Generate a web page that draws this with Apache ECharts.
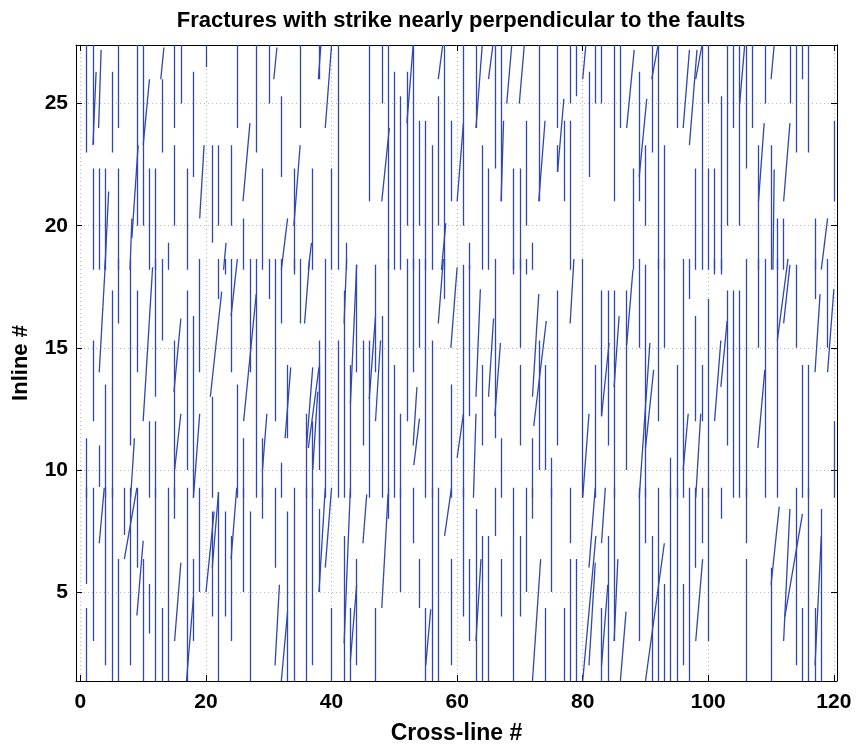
<!DOCTYPE html>
<html><head><meta charset="utf-8">
<script src="https://cdn.jsdelivr.net/npm/echarts@6/dist/echarts.min.js"></script>
<style>html,body{margin:0;padding:0;background:#fff}#c{width:857px;height:750px}</style>
</head><body><div id="c"></div>
<script>
const titleText = 'Fractures with strike nearly perpendicular to the faults';
const xName = 'Cross-line #';
const yName = 'Inline #';
const xTicks = [0, 20, 40, 60, 80, 100, 120];
const yTicks = [5, 10, 15, 20, 25];
const xRange = [-0.7, 120.5];
const yRange = [1.36, 27.4];

// vertical fractures: [cross-line, inline from, inline to]
const verticalSticks = [
 [1,23.0,27.4],[2,23.33,27.4],[2,18.2,22.34],[3,18.2,22.34],[4,18.2,22.34],[5,23,26.3],[6,24,27.4],[6,18.2,22.34],[9,20,27.4],[10,20,27.4],[11,18.2,22.34],[12,18.2,22.34],[13,23,26],[14,18.2,19.3],[15,24,27.4],[15,20,23.3],[16,25,27.4],[17,18.2,22.34],[18,22,26.3],[20,26.5,27.4],[21,19.3,23.3],[22,20,23.3],[24,20,23.3],[25,24,27.4],[26,18.2,20.3],[28,23,27.4],[29,18.2,22.34],[30,25,27.4],[32,22,25.3],[34,18.2,22.34],[35,24,27.4],[37,18.2,22.34],[38,26,27.4],
 [41,18.2,27.4],[40,18.2,22.34],[42.4,18.2,19.3],[46,21,27.4],[48,25,27.4],[49,18.2,27.4],[50,18.2,26.3],[51,18.2,25.3],[52,20,26.3],[53,18.2,27.4],[54,20,24.3],[55,18.2,24.3],[56,18.2,23.3],[57,20,25.3],[58,18.2,27.4],[59,21,24.3],[61,20,27.4],[62,18.2,19.3],[63,24,27.4],[64,18.2,23.3],[65,18.2,22.34],[66,22.34,27.4],[67,21,27.4],[69,18.2,22.34],[70,18.2,22.34],[71,20,24.3],[72,18.2,19.3],[73,21,27.4],[76,22.2,23.3],
 [76,24,27.4],[77,21,24.3],[78,25,27.4],[78,18.2,24.3],[79,25.3,27.4],[81,22,26.3],[82,25,27.4],[83,25,27.4],[85,21,27.4],[86,24,27.4],[88,18.2,22.34],[89,21,26.3],[90,20,23.3],[91,23,27.4],[92,18.2,27.4],[93,18.2,23.3],[95,24,27.4],[98,18.2,22.34],[99,18.2,27.4],[100,25,27.4],[100,18.2,22.34],[101,18.2,22.34],[102,18.2,25.3],[103,20,27.4],[104,24,27.4],[105,20,27.4],[106,22.34,27.4],[107,24,27.4],[108,18.2,23.3],[109,25,27.4],[110,18.2,23.3],[111,18.2,20.3],[112,18.2,20.3],[113,25,27.4],[114,23,27.4],[115,26,27.4],[116,23,27.4],[117,18.2,20.3],[120,21,24.3],
 [1,8.86,11.3],[2,12,15.3],[3,9.3,11],[4,8.86,13.5],[5,8.86,17.35],[6,16,18.64],[8,11,18.64],[9,14,17.35],[11,8.86,12],[12,13,18.64],[12,8.86,12],[13,15.3,18.64],[15,8.86,15.3],[17,10,17.35],[18,8.86,16.3],[19,14,18.64],[21,8.86,13],[22,17,18.64],[23,18,18.64],[24,14,18.64],[25,8.86,13.5],[26,8.86,11.3],[27,14,18.64],[28,8.86,18.64],[29,8.86,11.3],[30,17,18.64],[31,12,18.64],[32,16,18.64],[32,8.86,10.3],[33,11.3,14.3],[34,18,18.64],[35,16,18.64],[37,8.86,12],[38,10,14.3],
 [36,8.86,12.3],[38,11,15.3],[39,8.86,18.64],[41,8.86,15.3],[42,8.86,17.35],[43,8.86,14.3],[44,14,18.4],[45,11,15.3],[46,8.86,15.3],[47,14,18.4],[48,8.86,16.3],[49,8.86,18.64],[50,8.86,14.3],[51,8.86,12.3],[52,12,18.64],[53,14,18.64],[54,15,18.64],[55,8.86,18.64],[56,8.86,15.3],[58,17,18.64],[59,8.86,13.5],[61,8.86,18.4],[62,12.2,18.4],[64,11,14.3],[66,11.3,18.64],[67,8.86,11.3],[69,18,18.64],[70,11,14.3],[70,15,18.64],[71,18,18.64],[72,8.86,11.3],[73,10,15.3],[74,10,14.3],[75,8.86,10.5],
 [76,11,17.35],[80,8.86,18.64],[82,8.86,14.3],[83,12.2,17.35],[84,11,17.35],[85,8.86,17.35],[87,10,17.35],[89,15,18.64],[90,8.86,18.4],[92,12,18.64],[93,15,18.64],[94,8.86,10.5],[95,8.86,14.3],[96,8.86,18.64],[97,17,18.64],[98,12,16.3],[99,12,14.3],[100,8.86,17],[101,18,18.64],[102,18,18.64],[103,11,17.35],[104,8.86,17.35],[105,8.86,17.35],[106,8.86,18.64],[108,15,18.64],[109,8.86,18.64],[111,8.86,18.64],[114,15,18.4],[115,8.86,14.3],[116,8.86,14.3],[117,17,18.64],[119,15,18.64],[120,8.86,12],
 [1,5.33,9.27],[1,1.36,4.35],[2,3,9.27],[4,2,9.27],[5,1.36,9.27],[6,1.36,6.35],[7,7.34,9.27],[8,2,9.27],[9,6,9.27],[10,1.36,6.35],[11,3.3,5.33],[12,1.36,9.27],[13,1.36,4.35],[14,1.36,9.27],[15,8,9.27],[17,1.36,9.27],[18,3,6.35],[19,5,9.27],[21,4,8.3],[22,1.36,9.1],[23,4,8.3],[24,3,7.3],[26,5,9.27],[27,1.36,8.3],[29,8,9.27],[31,6,9.27],[33,1.36,8.3],[34,1.36,9.27],[36,1.36,9.27],
 [37,2,9.27],[38,5,8.4],[40,1.36,4.35],[42,1.36,7.3],[43,1.36,4.35],[44,2,6.35],[47,1.36,4.35],[49,8,9.27],[51,5,9.27],[53,7,9.27],[54,4.35,6.35],[55,1.36,4.35],[56,1.36,9.27],[57,1.36,9.27],[59,2,6.35],[61,4,9.27],[62,3,6.35],[63,1.36,8.4],[64,1.36,7.3],[65,1.36,7.3],[66,7.3,9.27],[67,4,6.35],[69,1.36,9.27],[70,4,7.3],[71,5,9.27],[72,8,9.27],[74,1.36,4.35],[75,5,9.27],
 [77,1.36,4.35],[78,7,9.27],[78,1.36,6.35],[79,1.36,6.35],[83,1.36,4.35],[84,1.36,7.3],[85,3,9.27],[89,3,9.27],[90,7,9.27],[91,1.36,7.3],[92,1.36,9.27],[93,1.36,5.33],[94,1.36,9.27],[95,1.36,9.27],[96,2,5.33],[97,1.36,9.27],[98,6,9.27],[99,7,9.27],[100,3,9.27],[102,8,9.27],[106,1.36,6.35],[106,7,9.27],[110,1.36,6],[114,2,9.27],[115,1.36,4.35],[116,1.36,9.27],[117,1.36,4.35],[118,1.36,8.4]
];

// oblique fractures: [cross-line low end, inline low end, cross-line high end, inline high end]
const tiltedSticks = [
 [2,23.3,2.5,26.3],[2.9,24,3.3,27.2],[3.9,18.2,4.5,21.4],[7.9,18.2,8.2,20.3],[8.2,19.5,9.2,23.3],[10,23.3,11,26],[12.8,26,13.3,27.3],[19,20.3,19.7,23.3],[22.8,18.2,23.2,19.3],[25.9,21,27,24.2],[30.8,26,31.3,27.3],[32,18.2,33,20.3],[34,20,35,23.3],[36.3,18.2,36.8,19.3],[37.9,26,38.3,27.4],[39,24,40,27.4],[48,21,49.2,24],[52,24.2,53,27.4],[57,26,57.7,27.4],[57.5,18.2,58.2,20.1],[60,21,61,24.2],[63,24,64,27.4],[65,26,65.7,27.4],[67,21,67.4,24.3],[67.9,25,68.7,27.4],[69.9,25,70.7,27.4],[73,21,74,24.3],[76,22.2,77,25.2],[80,26,80.5,27.4],[87,24,88.2,27.2],[89,22,90.2,25.2],[91,26,92,27.4],[96,24,97,27.2],[97,23.3,98.2,27.2],[98,26,99,27.4],[105,25,105.8,27.4],[108,21,108.9,24.2],[110,26,110.5,27.4],[110.3,18.2,110.5,22.3],[112,21,113,24.2],[118,18.2,119,20.3],
 [3,14,4,18.6],[8,8.86,8.6,11.3],[10,12,11.5,18.3],[14.9,13.2,16,16.2],[15,10,16,12.3],[18,8.86,19,12.3],[20.7,13,22.5,17.3],[24,16.3,25,18.64],[26,12,28,17.2],[29,10,29.7,12.3],[32.6,11.3,33.5,14.2],[35.7,16,36.5,18.64],[36.3,10.9,38,14.2],[36,10.9,37,14.2],[37,10,37.8,13.2],[42,16,42.4,18.64],[43,12.7,44,18.4],[46,12.9,47,16.3],[47,12,47.8,15.3],[53,11,53.6,13.4],[53.1,10.2,54,12.1],[57,16,57.8,18.64],[59,15,60,18.3],[60,10.5,61,12.3],[63,13,63.7,17.4],[62.6,8.86,63,12.3],[65,13,65.8,16.2],[66,12.2,66.9,15.2],[72,13,73,17.2],[72.2,11.8,74.2,16.1],[78,16,78.6,18.64],[80,8.86,81,12.3],[83,12.2,84.2,15.2],[85,13.4,85.8,16.3],[87,15.1,88,18.2],[89,8.86,90.7,15.2],[90,10.9,91.3,14.1],[96,10,96.8,12.3],[98,8.86,98.8,12.3],[101,12,102,15.3],[102,13.4,103,16.1],[107.9,10.9,109,14.1],[111,15.3,112.7,18.64],[112,16,113,18.4],[117,14,117.8,17.2],[119,14,120,17.4],
 [3,7,3.8,9.27],[7,6.35,9,9.27],[9,4.04,10,7.1],[15,3,16,6.2],[16.9,1.36,18,4.8],[20,5,21.3,8.3],[21,6,22,9.1],[24,6.35,24.9,9.27],[31,2,31.7,5.3],[32,1.36,33,4.2],[38,5,39,9.27],[39,6,40,9.27],[43,2.2,44,5.3],[42,2.9,43,9.27],[45,7,45.6,9],[48,4.35,49,9],[55,2,55.8,4.3],[58,7.3,59.1,9.27],[63,3,63.8,6.35],[72,1.36,73.3,6.35],[80,1.36,82.1,7.3],[81,2,82,6.2],[81,6,82,9.27],[83,2,84,5.3],[83,7,83.6,9.27],[85,3,85.6,6.35],[86,1.36,86.9,4.2],[90,1.36,93,7.0],[98,3,99.1,6.35],[110,5.3,111.3,8.5],[112,3,113,8.4],[112.2,4,115,8.2],[117,2,118,7.3]
];

const segs = verticalSticks.map(s => ({coords: [[s[0], s[1]], [s[0], s[2]]]}))
  .concat(tiltedSticks.map(s => ({coords: [[s[0], s[1]], [s[2], s[3]]]})));

const FONT = 'Liberation Sans, Arial, Helvetica, sans-serif';
const gridLine = {show: true, lineStyle: {color: '#b8b8b8', type: [1, 3], width: 1}};
const tickStyle = {show: true, inside: true, length: 6, lineStyle: {color: '#000', width: 1}};
const lineStyleAxis = {show: true, onZero: false, lineStyle: {color: '#000', width: 1}};

const chart = echarts.init(document.getElementById('c'), null, {renderer: 'canvas'});
chart.setOption({
  backgroundColor: '#fff',
  animation: false,
  title: {text: titleText, left: 456, top: 5, textAlign: 'center',
    textStyle: {fontFamily: FONT, fontWeight: 'bold', fontSize: 22, color: '#000'}},
  grid: {left: 76, right: 20, top: 45, bottom: 66},
  xAxis: [
    {type: 'value', position: 'bottom', min: xRange[0], max: xRange[1],
     name: xName, nameLocation: 'middle', nameGap: 41,
     nameTextStyle: {fontFamily: FONT, fontWeight: 'bold', fontSize: 23, color: '#000'},
     axisLine: lineStyleAxis,
     axisTick: Object.assign({customValues: xTicks}, tickStyle),
     axisLabel: {customValues: xTicks, fontFamily: FONT, fontWeight: 'bold', fontSize: 21, color: '#000', margin: 11},
     splitLine: gridLine},
    {type: 'value', position: 'top', min: xRange[0], max: xRange[1],
     axisLine: lineStyleAxis,
     axisTick: Object.assign({customValues: xTicks}, tickStyle),
     axisLabel: {show: false}, splitLine: {show: false}}
  ],
  yAxis: [
    {type: 'value', position: 'left', min: yRange[0], max: yRange[1],
     name: yName, nameLocation: 'middle', nameGap: 44,
     nameTextStyle: {fontFamily: FONT, fontWeight: 'bold', fontSize: 22, color: '#000'},
     axisLine: lineStyleAxis,
     axisTick: Object.assign({customValues: yTicks}, tickStyle),
     axisLabel: {customValues: yTicks, fontFamily: FONT, fontWeight: 'bold', fontSize: 21, color: '#000', margin: 8},
     splitLine: gridLine},
    {type: 'value', position: 'right', min: yRange[0], max: yRange[1],
     axisLine: lineStyleAxis,
     axisTick: Object.assign({customValues: yTicks}, tickStyle),
     axisLabel: {show: false}, splitLine: {show: false}}
  ],
  series: [{
    type: 'lines', coordinateSystem: 'cartesian2d', xAxisIndex: 0, yAxisIndex: 0,
    polyline: false, clip: true, silent: true,
    lineStyle: {color: '#3047ad', width: 1.3, opacity: 1, curveness: 0},
    data: segs
  }]
});
</script>
</body></html>
